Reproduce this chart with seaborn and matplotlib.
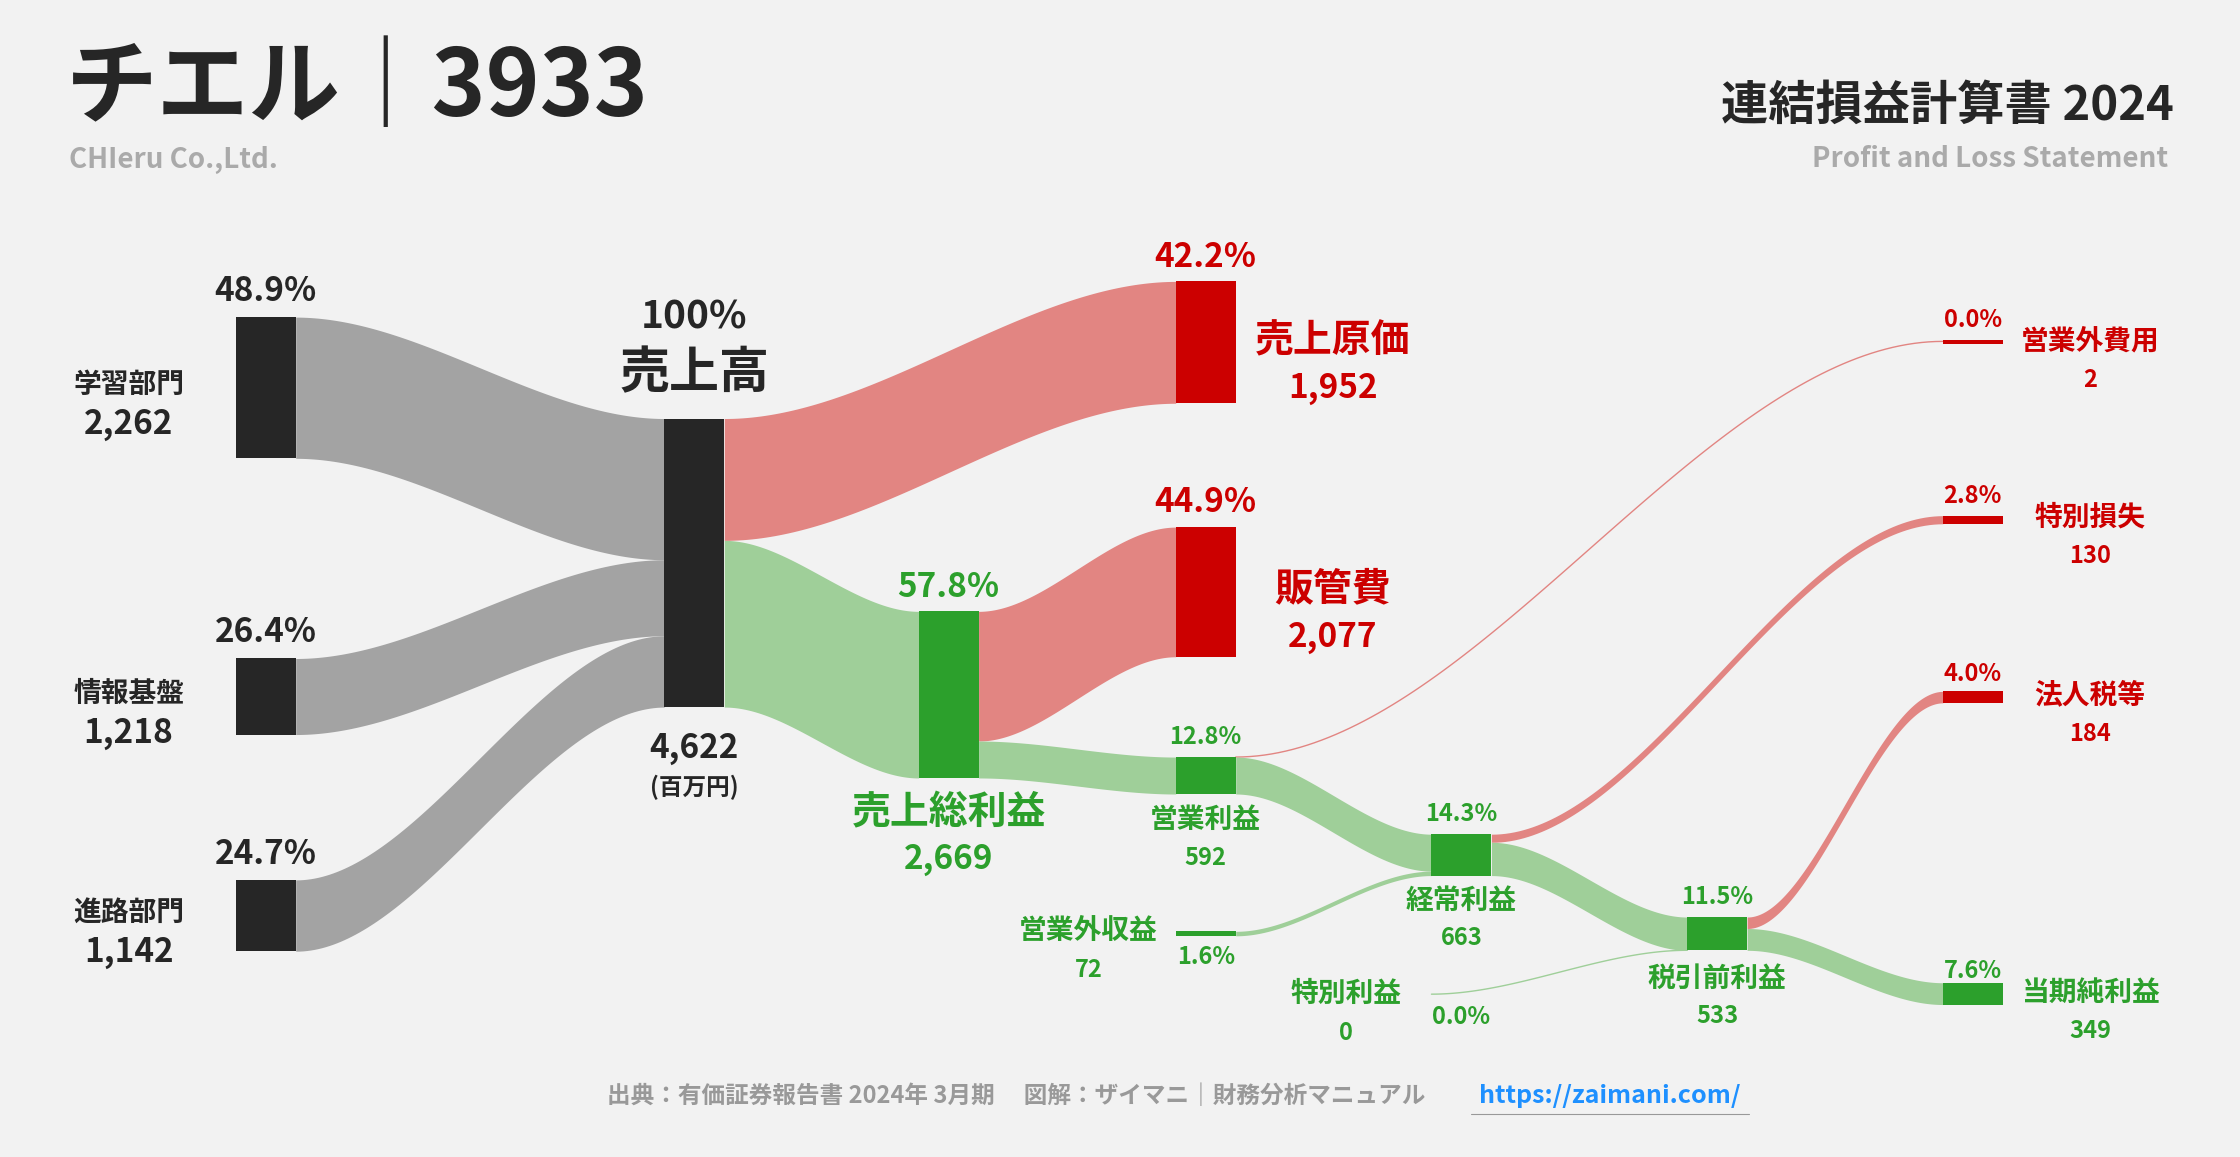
import numpy as np
import matplotlib
matplotlib.use("Agg")
import matplotlib.pyplot as plt
import seaborn as sns

sns.set_theme(style="white", rc={"font.family": "Noto Sans CJK JP",
                                 "figure.facecolor": "#f2f2f2",
                                 "axes.facecolor": "#f2f2f2"})

# data (百万円)
segments = ["学習部門", "情報基盤", "進路部門"]
segment_values = [2262, 1218, 1142]
segment_pct = ["48.9%", "26.4%", "24.7%"]
revenue = 4622
cost_of_sales = 1952
gross_profit = 2669
sga = 2077
op_profit = 592
nonop_income = 72
nonop_expense = 2
ordinary_profit = 663
special_gain = 0
special_loss = 130
pretax_profit = 533
tax = 184
net_profit = 349

GRAY, DARK = "#a3a3a3", "#262626"
RED, LRED = "#cc0000", "#e28582"
GREEN, LGREEN = "#2ca02c", "#9fcf99"

fig = plt.figure(figsize=(22.4, 11.57), dpi=100)
ax = fig.add_axes([0, 0, 1, 1])
ax.set_xlim(0, 1568)
ax.set_ylim(810, 0)
ax.axis("off")

k = 202 / revenue  # px per unit
W = 42


def node(x, y, v, color, minh=0):
    h = max(v * k, minh)
    ax.add_patch(plt.Rectangle((x, y), W, h, color=color, lw=0, zorder=3))
    return y, y + h


def band(x0, s0, s1, x1, t0, t1, color, line=False):
    t = np.linspace(0, 1, 100)
    s = t * t * (3 - 2 * t)
    xs = x0 + (x1 - x0) * t
    top = s0 + (t0 - s0) * s
    bot = s1 + (t1 - s1) * s
    if line:
        ax.plot(xs, top, color=color, lw=1, zorder=2)
    else:
        ax.fill_between(xs, top, bot, color=color, lw=0, zorder=2)


# nodes
segx, revx, c2, c3, c4, c5, c6 = 165, 465, 643, 823, 1002, 1181, 1360
seg_y = [222, 461, 616]
seg_spans = [node(segx, y, v, DARK) for y, v in zip(seg_y, segment_values)]
rv = node(revx, 293, revenue, DARK)
cs = node(c3, 197, cost_of_sales, RED)
gp = node(c2, 428, gross_profit, GREEN)
sg = node(c3, 369, sga, RED)
op = node(c3, 530, op_profit, GREEN)
ni = node(c3, 652, nonop_income, GREEN, 3)
ne = node(c6, 238, nonop_expense, RED, 3)
od = node(c4, 584, ordinary_profit, GREEN)
sgn = (696, 696)
sl = node(c6, 361, special_loss, RED)
pt = node(c5, 642, pretax_profit, GREEN)
tx = node(c6, 484, tax, RED)
npf = node(c6, 688, net_profit, GREEN)

# flows
y = rv[0]
for (a, b), v in zip(seg_spans, segment_values):
    band(segx + W, a, b, revx, y, y + v * k, GRAY)
    y += v * k
band(revx + W, rv[0], rv[0] + cost_of_sales * k, c3, cs[0], cs[1], LRED)
band(revx + W, rv[0] + cost_of_sales * k, rv[1], c2, gp[0], gp[1], LGREEN)
band(c2 + W, gp[0], gp[0] + sga * k, c3, sg[0], sg[1], LRED)
band(c2 + W, gp[0] + sga * k, gp[1], c3, op[0], op[1], LGREEN)
band(c3 + W, op[0], op[0], c6, ne[0] + 1, ne[0] + 1, LRED, line=True)
band(c3 + W, op[0], op[1], c4, od[0], od[0] + op_profit * k, LGREEN)
band(c3 + W, ni[0], ni[1], c4, od[0] + op_profit * k, od[1], LGREEN)
band(c4 + W, od[0], od[0] + special_loss * k, c6, sl[0], sl[1], LRED)
band(c4 + W, od[0] + special_loss * k, od[1], c5, pt[0], pt[1], LGREEN)
band(c4, sgn[0], sgn[0], c5, pt[1], pt[1], LGREEN, line=True)
band(c5 + W, pt[0], pt[0] + tax * k, c6, tx[0], tx[1], LRED)
band(c5 + W, pt[0] + tax * k, pt[1], c6, npf[0], npf[1], LGREEN)


def txt(x, y, s, size, color=DARK, ha="center", va="center"):
    ax.text(x, y, s, fontsize=size, color=color, ha=ha, va=va, fontweight="bold")


# header
txt(46, 62, "チエル｜3933", 66, ha="left")
txt(48, 112, "CHIeru Co.,Ltd.", 20, color="#aaaaaa", ha="left")
txt(1522, 74, "連結損益計算書 2024", 34, ha="right")
txt(1518, 111, "Profit and Loss Statement", 20, color="#aaaaaa", ha="right")

# segments
for (a, b), name, v, p in zip(seg_spans, segments, segment_values, segment_pct):
    txt(segx + W / 2, a - 18, p, 24)
    txt(90, (a + b) / 2 - 2, name, 20)
    txt(90, (a + b) / 2 + 26, f"{v:,}", 24)

txt(486, 222, "100%", 28)
txt(486, 262, "売上高", 36)
txt(486, 524, f"{revenue:,}", 24)
txt(486, 551, "(百万円)", 17)

txt(844, 180, "42.2%", 24, RED)
txt(933, 239, "売上原価", 28, RED)
txt(933, 272, f"{cost_of_sales:,}", 24, RED)
txt(844, 352, "44.9%", 24, RED)
txt(933, 412, "販管費", 28, RED)
txt(933, 446, f"{sga:,}", 24, RED)

txt(664, 411, "57.8%", 24, GREEN)
txt(664, 569, "売上総利益", 28, GREEN)
txt(664, 602, f"{gross_profit:,}", 24, GREEN)

txt(844, 516, "12.8%", 17, GREEN)
txt(844, 574, "営業利益", 20, GREEN)
txt(844, 601, f"{op_profit:,}", 17, GREEN)

txt(762, 652, "営業外収益", 20, GREEN)
txt(762, 679, f"{nonop_income:,}", 17, GREEN)
txt(844, 670, "1.6%", 17, GREEN)

txt(1023, 570, "14.3%", 17, GREEN)
txt(1023, 631, "経常利益", 20, GREEN)
txt(1023, 657, f"{ordinary_profit:,}", 17, GREEN)

txt(942, 696, "特別利益", 20, GREEN)
txt(942, 723, f"{special_gain:,}", 17, GREEN)
txt(1023, 712, "0.0%", 17, GREEN)

txt(1202, 628, "11.5%", 17, GREEN)
txt(1202, 685, "税引前利益", 20, GREEN)
txt(1202, 711, f"{pretax_profit:,}", 17, GREEN)

for lab, v, p, yy, col in [("営業外費用", nonop_expense, "0.0%", 239, RED),
                           ("特別損失", special_loss, "2.8%", 362, RED),
                           ("法人税等", tax, "4.0%", 487, RED),
                           ("当期純利益", net_profit, "7.6%", 695, GREEN)]:
    txt(1381, yy - 15, p, 17, col)
    txt(1463, yy, lab, 20, col)
    txt(1463, yy + 27, f"{v:,}", 17, col)

txt(711, 767, "出典：有価証券報告書 2024年 3月期　 図解：ザイマニ｜財務分析マニュアル",
    17, color="#999999")
txt(1127, 767, "https://zaimani.com/", 18, color="#1e90ff")
ax.plot([1030, 1224], [780, 780], color="#999999", lw=0.8)

fig.savefig("out.png", dpi=100, facecolor="#f2f2f2")
